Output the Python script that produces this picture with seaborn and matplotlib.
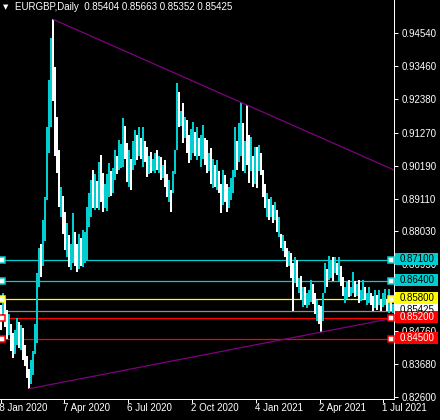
import numpy as np
import pandas as pd
import matplotlib
matplotlib.use("Agg")
import matplotlib.pyplot as plt
import matplotlib.transforms as mtransforms
from matplotlib.patches import Rectangle
import seaborn as sns

# ---------------- data ----------------
symbol = "EURGBP,Daily"
last_ohlc = ["0.85404", "0.85663", "0.85352", "0.85425"]

bar_high = [
    0.8560, 0.8600, 0.8576, 0.8545, 0.8530, 0.8500, 0.8470, 0.8480, 0.8520, 0.8505,
    0.8495, 0.8487, 0.8430, 0.8395, 0.8350, 0.8380, 0.8411, 0.8500, 0.8665, 0.8747,
    0.8760, 0.8839, 0.8915, 0.9145, 0.9300, 0.9440, 0.9500, 0.9343, 0.9180, 0.9070,
    0.8948, 0.8920, 0.8866, 0.8829, 0.8790, 0.8760, 0.8862, 0.8800, 0.8760, 0.8796,
    0.8780, 0.8806, 0.8800, 0.8882, 0.8930, 0.8971, 0.9004, 0.8990, 0.8970, 0.9030,
    0.9053, 0.8994, 0.8960, 0.8990, 0.9027, 0.9000, 0.9010, 0.9070, 0.9050, 0.9103,
    0.9090, 0.9175, 0.9150, 0.9093, 0.9070, 0.9040, 0.9100, 0.9135, 0.9120, 0.9145,
    0.9110, 0.9145, 0.9100, 0.9079, 0.9050, 0.9063, 0.9040, 0.9060, 0.9070, 0.9050,
    0.9047, 0.9020, 0.9037, 0.8990, 0.8971, 0.8940, 0.9000, 0.9070, 0.9290, 0.9260,
    0.9200, 0.9224, 0.9180, 0.9168, 0.9120, 0.9140, 0.9162, 0.9130, 0.9145, 0.9110,
    0.9120, 0.9152, 0.9110, 0.9103, 0.9060, 0.9076, 0.9040, 0.9020, 0.9037, 0.9000,
    0.8960, 0.9004, 0.8987, 0.8960, 0.8950, 0.8980, 0.9004, 0.9145, 0.9100, 0.9160,
    0.9227, 0.9158, 0.9100, 0.9218, 0.9120, 0.9112, 0.9050, 0.9080, 0.9079, 0.9086,
    0.9060, 0.9004, 0.8960, 0.8928, 0.8910, 0.8915, 0.8890, 0.8900, 0.8872, 0.8850,
    0.8796, 0.8790, 0.8770, 0.8750, 0.8740, 0.8731, 0.8700, 0.8720, 0.8708, 0.8650,
    0.8658, 0.8620, 0.8619, 0.8600, 0.8610, 0.8642, 0.8630, 0.8600, 0.8576, 0.8560,
    0.8559, 0.8600, 0.8698, 0.8680, 0.8721, 0.8710, 0.8720, 0.8718, 0.8700, 0.8718,
    0.8690, 0.8652, 0.8620, 0.8640, 0.8642, 0.8620, 0.8668, 0.8640, 0.8630, 0.8642,
    0.8610, 0.8642, 0.8620, 0.8600, 0.8619, 0.8600, 0.8590, 0.8609, 0.8595, 0.8609,
    0.8580, 0.8600, 0.8615, 0.8580, 0.8615, 0.8580, 0.8566,
]
bar_low = [
    0.8478, 0.8530, 0.8490, 0.8450, 0.8462, 0.8410, 0.8388, 0.8400, 0.8430, 0.8420,
    0.8412, 0.8379, 0.8360, 0.8320, 0.8286, 0.8300, 0.8330, 0.8400, 0.8435, 0.8619,
    0.8652, 0.8690, 0.8773, 0.8905, 0.9060, 0.9145, 0.9230, 0.9050, 0.8994, 0.8882,
    0.8850, 0.8796, 0.8741, 0.8720, 0.8685, 0.8675, 0.8700, 0.8690, 0.8668, 0.8680,
    0.8690, 0.8685, 0.8700, 0.8708, 0.8816, 0.8850, 0.8880, 0.8872, 0.8880, 0.8872,
    0.8900, 0.8866, 0.8880, 0.8870, 0.8915, 0.8920, 0.8930, 0.8971, 0.8990, 0.9004,
    0.9010, 0.9014, 0.9040, 0.8964, 0.8950, 0.8938, 0.9004, 0.9020, 0.9037, 0.9050,
    0.9040, 0.9014, 0.9030, 0.8981, 0.8990, 0.8994, 0.9000, 0.8994, 0.9005, 0.8994,
    0.8971, 0.8980, 0.8950, 0.8915, 0.8900, 0.8866, 0.8928, 0.8990, 0.9070, 0.9145,
    0.9150, 0.9093, 0.9110, 0.9060, 0.9027, 0.9037, 0.9060, 0.9050, 0.9037, 0.9050,
    0.9014, 0.9040, 0.9020, 0.8994, 0.9000, 0.8960, 0.8944, 0.8950, 0.8940, 0.8928,
    0.8862, 0.8890, 0.8900, 0.8866, 0.8880, 0.8905, 0.8930, 0.8981, 0.9004, 0.9030,
    0.9050, 0.9000, 0.8994, 0.9020, 0.8961, 0.9000, 0.8948, 0.8960, 0.8944, 0.9000,
    0.8987, 0.8915, 0.8880, 0.8850, 0.8839, 0.8850, 0.8829, 0.8840, 0.8800, 0.8783,
    0.8750, 0.8740, 0.8720, 0.8685, 0.8690, 0.8650, 0.8543, 0.8632, 0.8620, 0.8599,
    0.8580, 0.8553, 0.8560, 0.8550, 0.8560, 0.8570, 0.8566, 0.8530, 0.8510, 0.8500,
    0.8472, 0.8510, 0.8599, 0.8620, 0.8642, 0.8650, 0.8640, 0.8665, 0.8660, 0.8640,
    0.8625, 0.8590, 0.8569, 0.8580, 0.8586, 0.8590, 0.8600, 0.8586, 0.8590, 0.8569,
    0.8575, 0.8580, 0.8576, 0.8560, 0.8569, 0.8560, 0.8543, 0.8550, 0.8545, 0.8560,
    0.8543, 0.8555, 0.8560, 0.8543, 0.8536, 0.8540, 0.8535,
]
# u = bullish bar, d = bearish bar
bar_dir = ("duddudduud" "udddduuuuu" "duuuuudddd" "udduduuddu" "duuuuududu"
           "dduuuduudu" "uudduduudu" "dudduduudu" "dudduduuud" "ududduudud"
           "uuddududud" "dudduuuudu" "ududdududu" "dddudududu" "dudduddudu"
           "duduuuddud" "duuduududu" "dduuduudud" "uuduuddudu" "duududu")

level_values = [0.87100, 0.86400, 0.85800, 0.85200, 0.84500]
bid_price = 0.85425

ytick_values = [0.94540, 0.93460, 0.92380, 0.91270, 0.90190, 0.89110,
                0.88030, 0.86950, 0.85870, 0.84760, 0.83680, 0.82600]
date_labels = ["28 Jan 2020", "7 Apr 2020", "6 Jul 2020", "2 Oct 2020",
               "4 Jan 2021", "2 Apr 2021", "1 Jul 2021"]
date_bar_index = [0, 31.7, 63.5, 95.5, 127.5, 159.5, 191]

upper_trend_bars = [26, 120]
upper_trend_prices = [0.9500, 0.9227]
lower_trend_bars = [14, 160]
lower_trend_prices = [0.8286, 0.8472]

# ---------------- styles ----------------
CYAN = "#00CED1"
level_colors = [CYAN, CYAN, "#FFFF00", "#FF0000", "#FF0000"]
level_text_colors = ["#000000", "#000000", "#000000", "#FFFFFF", "#FFFFFF"]
PURPLE = "#800080"

assert len(bar_high) == len(bar_low) == len(bar_dir)

sns.set_theme(style="dark", rc={"axes.facecolor": "black", "figure.facecolor": "black",
                                 "axes.grid": False})
plt.rcParams["font.family"] = ["Liberation Sans", "DejaVu Sans"]

df = pd.DataFrame({"bar": np.arange(len(bar_high)), "high": bar_high,
                   "low": bar_low, "dir": list(bar_dir)})

W, H = 440, 420
fig = plt.figure(figsize=(W / 100, H / 100), dpi=100)
ax_left, ax_bottom, ax_w, ax_h = 0, 21, 394, 399
ax = fig.add_axes([ax_left / W, ax_bottom / H, ax_w / W, ax_h / H])
ax.set_facecolor("black")

xmin, xmax = -0.5, len(df) - 0.5
ymax = 0.95634
ymin = ymax - 399 * 0.0003286
ax.set_xlim(xmin, xmax)
ax.set_ylim(ymin, ymax)

PX = 0.72  # one pixel in points

# horizontal levels
for v, c in zip(level_values, level_colors):
    ax.axhline(v, color=c, lw=0.9, snap=True, zorder=1)
ax.axhline(bid_price, color="#8C8C8C", lw=0.9, snap=True, zorder=1)

# bars
up = df[df["dir"] == "u"]
dn = df[df["dir"] == "d"]
ax.vlines(dn["bar"], dn["low"], dn["high"], color="white", lw=1.15, antialiased=False, zorder=3)
ax.vlines(up["bar"], up["low"], up["high"], color=CYAN, lw=1.15, antialiased=False, zorder=3)

# trend lines (rays to the right edge)
for bx, py in ((upper_trend_bars, upper_trend_prices), (lower_trend_bars, lower_trend_prices)):
    slope = (py[1] - py[0]) / (bx[1] - bx[0])
    tdf = pd.DataFrame({"x": [bx[0], xmax], "y": [py[0], py[0] + slope * (xmax - bx[0])]})
    sns.lineplot(data=tdf, x="x", y="y", color=PURPLE, lw=0.9, ax=ax, zorder=4, sort=False)
ax.set_xlabel("")
ax.set_ylabel("")

# squares on level lines
for v, c in zip(level_values, level_colors):
    for xb in (0.5, 195):
        ax.plot([xb], [v], marker="s", ms=4.0, mfc="white", mec=c, mew=1.1,
                clip_on=False, zorder=6)

# axes styling
for s in ("left", "top"):
    ax.spines[s].set_visible(False)
for s in ("bottom", "right"):
    ax.spines[s].set_color("white")
    ax.spines[s].set_linewidth(PX)
ax.yaxis.tick_right()
ax.set_yticks(ytick_values)
ax.set_yticklabels([f"{v:.5f}" for v in ytick_values])
ax.tick_params(axis="y", colors="white", length=3, width=PX, pad=2.2, labelsize=7,
               right=True, left=False)
ax.set_xticks(date_bar_index)
ax.set_xticklabels([])
ax.tick_params(axis="x", colors="white", length=3, width=PX, bottom=True)

# date labels (left aligned at their tick)
tr = mtransforms.blended_transform_factory(ax.transData, fig.transFigure)
for i, (lab, xb) in enumerate(zip(date_labels, date_bar_index)):
    xpos = xb - (3.6 if i == 0 else 0.6)
    ax.text(xpos, 1 - 408 / H, lab, transform=tr, color="white", fontsize=7,
            ha="left", va="center", clip_on=False)

# price boxes on the right axis
btr = mtransforms.blended_transform_factory(ax.transAxes, ax.transData)
px = 0.0003286
box_x0 = 1 + 1 / ax_w
box_w = 43 / ax_w
box_h = 12 * px


def price_box(val, face, tcol):
    yc = val + 1 * px
    ax.add_patch(Rectangle((box_x0, yc - box_h / 2), box_w, box_h, transform=btr,
                           facecolor=face, edgecolor="none", clip_on=False, zorder=7))
    ax.text(1 + 6 / ax_w, yc, f"{val:.5f}", transform=btr, color=tcol, fontsize=7,
            ha="left", va="center", clip_on=False, zorder=8)


price_box(bid_price, "white", "black")
for v, c, tc in zip(level_values, level_colors, level_text_colors):
    price_box(v, c, tc)

# header
fig.text(3 / W, 1 - 7 / H, "▼", color="white", fontsize=5, ha="left", va="center",
         family=["DejaVu Sans"])
fig.text(15 / W, 1 - 7 / H, symbol + "  " + " ".join(last_ohlc), color="white",
         fontsize=7, ha="left", va="center")

fig.savefig("out.png", dpi=100, facecolor="black")
